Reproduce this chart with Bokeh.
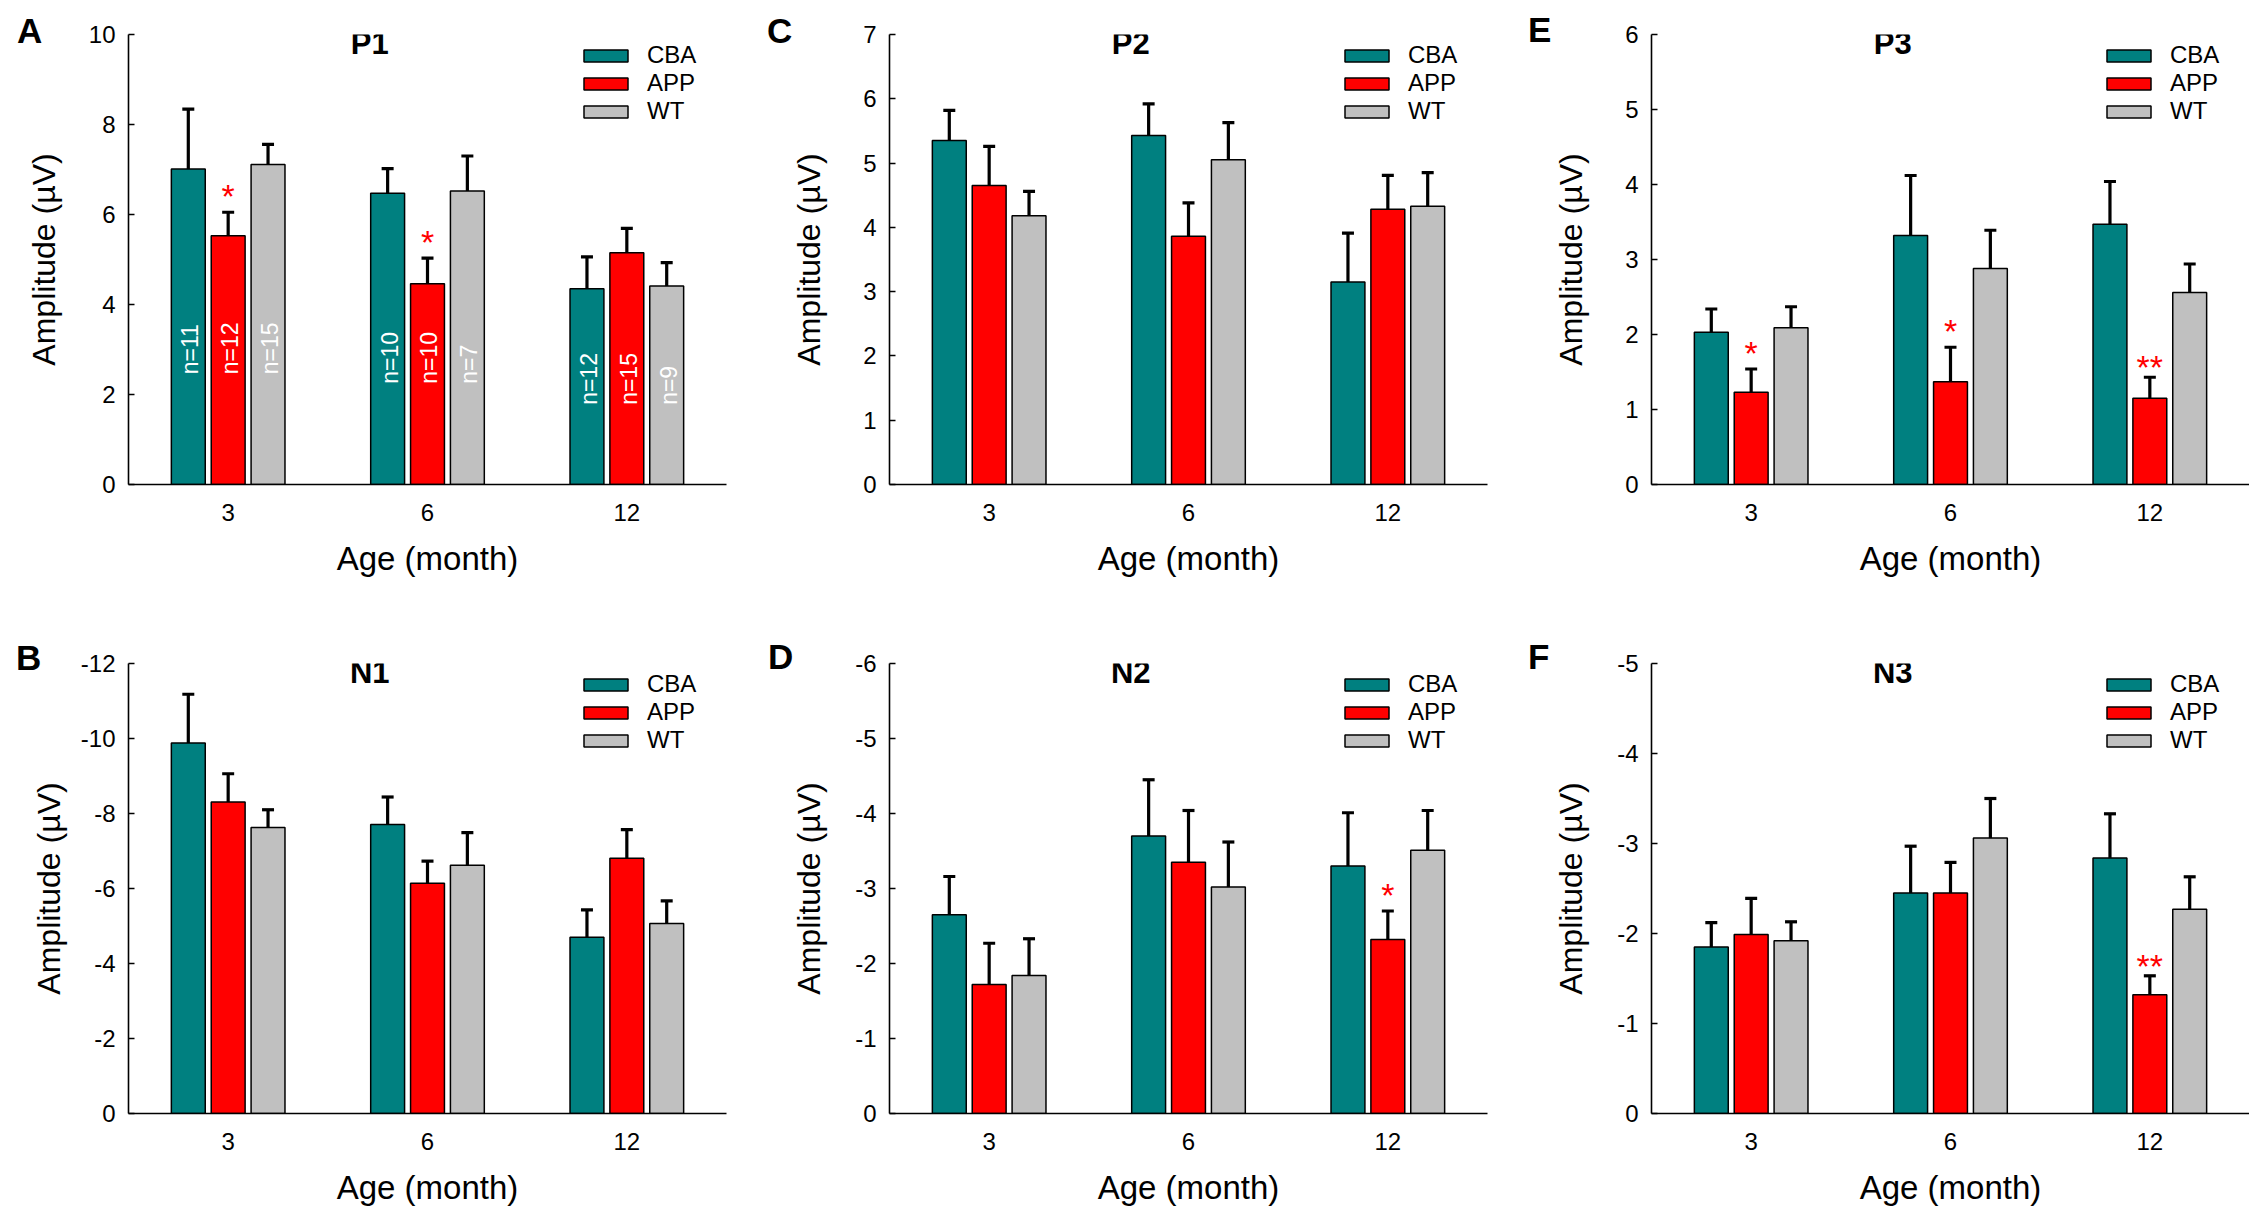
import math
from bokeh.plotting import figure
from bokeh.models import (FactorRange, Range1d, FixedTicker, Whisker, TeeHead,
                          Legend, LegendItem, Label, ColumnDataSource, Div)
from bokeh.transform import dodge
from bokeh.layouts import column, row
from bokeh.embed import file_html
from bokeh.resources import INLINE
from bokeh.core.properties import value

# ---------------- data ----------------
ages = ["3", "6", "12"]
groups = ["CBA", "APP", "WT"]

P1_CBA = [7.01, 6.47, 4.35]
P1_APP = [5.53, 4.46, 5.15]
P1_WT = [7.11, 6.52, 4.41]
P1_CBA_SEM = [1.33, 0.55, 0.71]
P1_APP_SEM = [0.52, 0.57, 0.54]
P1_WT_SEM = [0.45, 0.78, 0.52]
P1_SIG = ["*", "*", ""]
P1_N_CBA = ["n=11", "n=10", "n=12"]
P1_N_APP = ["n=12", "n=10", "n=15"]
P1_N_WT = ["n=15", "n=7", "n=9"]

P2_CBA = [5.35, 5.43, 3.15]
P2_APP = [4.65, 3.86, 4.28]
P2_WT = [4.18, 5.05, 4.33]
P2_CBA_SEM = [0.47, 0.49, 0.76]
P2_APP_SEM = [0.61, 0.52, 0.53]
P2_WT_SEM = [0.38, 0.58, 0.52]
P2_SIG = ["", "", ""]

P3_CBA = [2.03, 3.32, 3.47]
P3_APP = [1.23, 1.37, 1.15]
P3_WT = [2.09, 2.88, 2.56]
P3_CBA_SEM = [0.31, 0.80, 0.57]
P3_APP_SEM = [0.31, 0.46, 0.28]
P3_WT_SEM = [0.28, 0.51, 0.38]
P3_SIG = ["*", "*", "**"]

N1_CBA = [-9.88, -7.71, -4.70]
N1_APP = [-8.31, -6.14, -6.81]
N1_WT = [-7.63, -6.62, -5.07]
N1_CBA_SEM = [1.30, 0.73, 0.73]
N1_APP_SEM = [0.75, 0.59, 0.76]
N1_WT_SEM = [0.47, 0.87, 0.60]
N1_SIG = ["", "", ""]

N2_CBA = [-2.65, -3.70, -3.30]
N2_APP = [-1.72, -3.35, -2.32]
N2_WT = [-1.84, -3.02, -3.51]
N2_CBA_SEM = [0.51, 0.75, 0.71]
N2_APP_SEM = [0.55, 0.69, 0.38]
N2_WT_SEM = [0.49, 0.60, 0.53]
N2_SIG = ["", "", "*"]

N3_CBA = [-1.85, -2.45, -2.84]
N3_APP = [-1.99, -2.45, -1.32]
N3_WT = [-1.92, -3.06, -2.27]
N3_CBA_SEM = [0.27, 0.52, 0.49]
N3_APP_SEM = [0.40, 0.34, 0.21]
N3_WT_SEM = [0.21, 0.44, 0.36]
N3_SIG = ["", "", "**"]

P1_TICKS = [0, 2, 4, 6, 8, 10]
P2_TICKS = [0, 1, 2, 3, 4, 5, 6, 7]
P3_TICKS = [0, 1, 2, 3, 4, 5, 6]
N1_TICKS = [0, -2, -4, -6, -8, -10, -12]
N2_TICKS = [0, -1, -2, -3, -4, -5, -6]
N3_TICKS = [0, -1, -2, -3, -4, -5]

# ---------------- style / layout ----------------
FONT = "Liberation Sans"
COLORS = {"CBA": "#008080", "APP": "#FF0000", "WT": "#C0C0C0"}
OFFS = {"CBA": -0.2, "APP": 0.0, "WT": 0.2}
FRAME_W, FRAME_H = 598, 450
N_LABEL_BASE = [2.45, 2.24, 1.77]   # where the rotated n= labels start (panel A)
STAR_YOFF = {"*": -16, "**": -10, "": 0}
COL_LEFT = [128, 119, 119]
COL_RIGHT = [44, 45, 0]
ROW_TOP = [34, 26]
ROW_BOTTOM = [153, 95]
LETTER_POS = {"A": (17, 13), "C": (767, 13), "E": (1528, 12),
              "B": (16, 640), "D": (768, 639), "F": (1528, 639)}


def label_width(s):
    return sum(8.0 if c == "-" else 13.35 for c in s)


def make_panel(title, means, sems, yr, ticks, sig, col, rowi, ylab_gap, nlab=None):
    p = figure(x_range=FactorRange(*ages, range_padding=0),
               y_range=Range1d(*yr),
               frame_width=FRAME_W, frame_height=FRAME_H,
               min_border_left=COL_LEFT[col], min_border_right=COL_RIGHT[col],
               min_border_top=ROW_TOP[rowi], min_border_bottom=ROW_BOTTOM[rowi],
               output_backend="svg", toolbar_location=None)
    p.outline_line_color = None
    p.xgrid.visible = False
    p.ygrid.visible = False

    data = {"age": ages}
    for g in groups:
        m = means[g]
        s = sems[g]
        data[g] = m
        data[g + "_up"] = [mi + (si if mi >= 0 else -si) for mi, si in zip(m, s)]
    data["sig"] = sig
    data["sig_off"] = [STAR_YOFF[t] for t in sig]
    if nlab is not None:
        for g in groups:
            data["n_" + g] = nlab[g]
        data["nbase"] = N_LABEL_BASE
    src = ColumnDataSource(data)

    rends = {}
    for g in groups:
        r = p.vbar(x=dodge("age", OFFS[g], range=p.x_range), top=g, bottom=0,
                   width=0.17, source=src, fill_color=COLORS[g],
                   line_color="black", line_width=1.5)
        rends[g] = r
        w = Whisker(source=src, base=dodge("age", OFFS[g], range=p.x_range),
                    lower=g, upper=g + "_up", line_width=3.2, line_color="black",
                    upper_head=TeeHead(size=12, line_width=3.2, line_color="black"),
                    lower_head=None, level="overlay")
        p.add_layout(w)

    # significance marks over APP bars
    p.text(x=dodge("age", 0.0, range=p.x_range), y="APP_up", text="sig",
           y_offset="sig_off", source=src, text_color="#FF0000",
           text_font=value(FONT), text_font_size="34px",
           text_align="center", text_baseline="alphabetic")

    if nlab is not None:
        for g in groups:
            p.text(x=dodge("age", OFFS[g] + 0.01, range=p.x_range), y="nbase",
                   text="n_" + g, source=src, angle=math.pi / 2,
                   text_color="white", text_font=value(FONT),
                   text_font_size="23px", text_align="left",
                   text_baseline="middle")

    # axes
    xa = p.xaxis[0]
    xa.axis_label = "Age (month)"
    xa.axis_label_text_font = FONT
    xa.axis_label_text_font_size = "33px"
    xa.axis_label_text_font_style = "normal"
    xa.axis_label_standoff = 16
    xa.major_label_text_font = FONT
    xa.major_label_text_font_size = "24px"
    xa.major_label_standoff = 13
    xa.major_tick_line_color = None
    xa.minor_tick_line_color = None
    xa.axis_line_width = 1.6
    xa.axis_line_color = "black"
    xa.major_label_text_color = "black"
    xa.axis_label_text_color = "black"

    ya = p.yaxis[0]
    ya.ticker = FixedTicker(ticks=ticks)
    ya.major_label_overrides = {t: str(t) for t in ticks}
    ya.axis_label = "Amplitude (\u00b5V)"
    ya.axis_label_text_font = FONT
    ya.axis_label_text_font_size = "32px"
    ya.axis_label_text_font_style = "normal"
    ya.axis_label_text_color = "black"
    wmax = max(label_width(str(t)) for t in ticks)
    ya.axis_label_standoff = int(round(ylab_gap - 13 - wmax))
    ya.major_label_text_font = FONT
    ya.major_label_text_font_size = "24px"
    ya.major_label_standoff = 13
    ya.major_tick_in = 6
    ya.major_tick_out = 0
    ya.major_tick_line_width = 1.6
    ya.major_tick_line_color = "black"
    ya.minor_tick_line_color = None
    ya.axis_line_width = 1.6
    ya.axis_line_color = "black"
    ya.major_label_text_color = "black"

    # legend
    items = [LegendItem(label=g, renderers=[rends[g]]) for g in groups]
    leg = Legend(items=items, location=(450, 359), orientation="vertical",
                 glyph_width=55, glyph_height=15, label_standoff=14,
                 spacing=0, padding=0, margin=0,
                 border_line_color=None, background_fill_alpha=0,
                 label_text_font=FONT, label_text_font_size="24px",
                 label_text_color="black", label_height=28)
    p.add_layout(leg)

    y0, y1 = yr
    span = y1 - y0
    p.add_layout(Label(x=1.21, y=y1 - 0.021 * span, text=title,
                       text_font=FONT, text_font_size="31px",
                       text_font_style="bold", text_color="black",
                       text_align="center", text_baseline="middle"))
    return p


def letter_div(letter):
    lx, ly = LETTER_POS[letter]
    return Div(text=letter, width=40, height=42, margin=0,
               styles={"position": "absolute", "left": f"{lx}px", "top": f"{ly}px",
                       "font-family": FONT, "font-size": "35px",
                       "font-weight": "bold", "line-height": "35px",
                       "color": "black", "z-index": "10"})


pA = make_panel("P1", {"CBA": P1_CBA, "APP": P1_APP, "WT": P1_WT},
                {"CBA": P1_CBA_SEM, "APP": P1_APP_SEM, "WT": P1_WT_SEM},
                (0, 10), P1_TICKS, P1_SIG, 0, 0, 64,
                nlab={"CBA": P1_N_CBA, "APP": P1_N_APP, "WT": P1_N_WT})
pC = make_panel("P2", {"CBA": P2_CBA, "APP": P2_APP, "WT": P2_WT},
                {"CBA": P2_CBA_SEM, "APP": P2_APP_SEM, "WT": P2_WT_SEM},
                (0, 7), P2_TICKS, P2_SIG, 1, 0, 59)
pE = make_panel("P3", {"CBA": P3_CBA, "APP": P3_APP, "WT": P3_WT},
                {"CBA": P3_CBA_SEM, "APP": P3_APP_SEM, "WT": P3_WT_SEM},
                (0, 6), P3_TICKS, P3_SIG, 2, 0, 59)
pB = make_panel("N1", {"CBA": N1_CBA, "APP": N1_APP, "WT": N1_WT},
                {"CBA": N1_CBA_SEM, "APP": N1_APP_SEM, "WT": N1_WT_SEM},
                (0, -12), N1_TICKS, N1_SIG, 0, 1, 59)
pD = make_panel("N2", {"CBA": N2_CBA, "APP": N2_APP, "WT": N2_WT},
                {"CBA": N2_CBA_SEM, "APP": N2_APP_SEM, "WT": N2_WT_SEM},
                (0, -6), N2_TICKS, N2_SIG, 1, 1, 59)
pF = make_panel("N3", {"CBA": N3_CBA, "APP": N3_APP, "WT": N3_WT},
                {"CBA": N3_CBA_SEM, "APP": N3_APP_SEM, "WT": N3_WT_SEM},
                (0, -5), N3_TICKS, N3_SIG, 2, 1, 59)

letters = [letter_div(k) for k in ["A", "C", "E", "B", "D", "F"]]
layout = column(row(pA, pC, pE, spacing=0), row(pB, pD, pF, spacing=0),
                *letters, spacing=0)
open("out.html", "w").write(file_html(layout, INLINE))
